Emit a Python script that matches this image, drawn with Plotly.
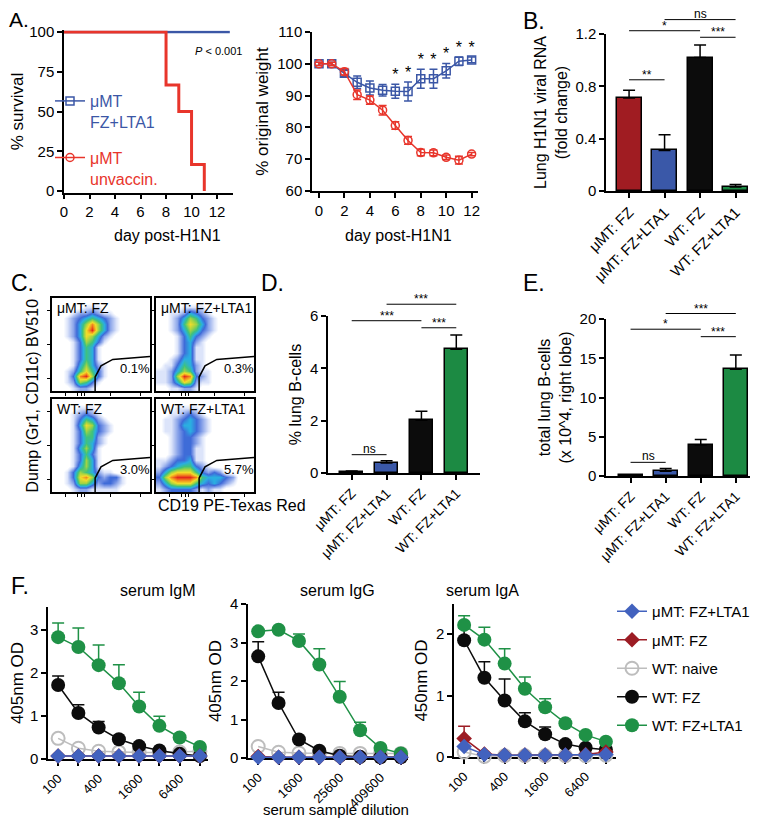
import plotly.graph_objects as go

W, H = 758, 823
FONT = "Liberation Sans, Arial, Helvetica, sans-serif"

# ---------------- colours ----------------
BLUE_A = "#3B57A6"
RED_A = "#E8352B"
GROUP_COLORS = ["#A01C22", "#3A58A8", "#0C0C0C", "#1C8A43"]
F_BLUE = "#4262BE"
F_RED = "#9C1C24"
F_GRAY = "#BDBDBD"
F_BLACK = "#0C0C0C"
F_GREEN = "#1F9146"

# ---------------- A. survival ----------------
surv_vacc_days = [0, 13]
surv_vacc = [100, 100]
surv_unvacc_days = [0, 8, 9, 10, 11]
surv_unvacc = [100, 66.7, 50, 16.7, 0]
p_value_text = "<i>P</i> < 0.001"

# ---------------- A. weight ----------------
weight_days = [0, 1, 2, 3, 4, 5, 6, 7, 8, 9, 10, 11, 12]
weight_vacc = [100, 100, 97.0, 94.2, 92.4, 91.7, 91.4, 91.3, 95.3, 95.3, 97.8, 100.8, 101.2]
weight_vacc_err = [0.5, 0.5, 1.0, 2.0, 2.2, 1.8, 2.2, 3.0, 3.0, 3.0, 2.3, 1.3, 0.9]
weight_unvacc = [100, 100, 97.5, 90.3, 88.6, 85.4, 80.6, 75.9, 72.1, 72.0, 70.6, 69.7, 71.6]
weight_unvacc_err = [0.5, 0.5, 1.0, 1.5, 1.3, 1.5, 1.2, 1.2, 1.0, 0.9, 0.7, 1.2, 0.5]
weight_sig_days = [6, 7, 8, 9, 10, 11, 12]

# ---------------- B / D / E bar charts ----------------
groups = ["μMT: FZ", "μMT: FZ+LTA1", "WT: FZ", "WT: FZ+LTA1"]
viral_rna = [0.71, 0.31, 1.02, 0.03]
viral_rna_err = [0.06, 0.12, 0.095, 0.02]
pct_bcells = [0.05, 0.38, 2.02, 4.73]
pct_bcells_err = [0.03, 0.09, 0.34, 0.54]
total_bcells = [0.08, 0.62, 3.94, 13.6]
total_bcells_err = [0.07, 0.33, 0.72, 1.8]
# (group a, group b, bar height, label)
sig_b = [(0, 1, 0.85, "**"), (0, 2, 1.225, "*"), (2, 3, 1.175, "***"), (1, 3, 1.31, "ns")]
sig_d = [(0, 1, 0.70, "ns"), (0, 2, 5.82, "***"), (2, 3, 5.55, "***"), (1, 3, 6.45, "***")]
sig_e = [(0, 1, 1.74, "ns"), (0, 2, 18.7, "*"), (2, 3, 17.75, "***"), (1, 3, 20.7, "***")]

# ---------------- C. flow density (levels 0-9, rows listed top -> bottom) ----------------
flow_titles = ["μMT: FZ", "μMT: FZ+LTA1", "WT: FZ", "WT: FZ+LTA1"]
flow_gate_pct = ["0.1%", "0.3%", "3.0%", "5.7%"]
flow_density_mu_fz = [
    "0000000000000000", "0000011100000000", "0001223211000000", "0012345432100000",
    "0012468642100000", "0012479642100000", "0012476421000000", "0001365310000000",
    "0001354100000000", "0001354100000000", "0001354100000000", "0001464210000000",
    "0012575310000000", "0013896310000000", "0012653100000000", "0001221000000000"]
flow_density_mu_lta1 = [
    "0000000000000000", "0000111100000000", "0011243210000000", "0012465321000000",
    "0012576421000000", "0012465321000000", "0001353210000000", "0001342100000000",
    "0001341100000000", "0001341100000000", "0012441100000000", "0113542100000000",
    "1124652110000000", "1126983210000000", "1124762110000000", "0011221000000000"]
flow_density_wt_fz = [
    "0000000000000000", "0000111000000000", "0001232100000000", "0001354210000000",
    "0001476321000000", "0001365321000000", "0001355210000000", "0001354210000000",
    "0001464100000000", "0001353100000000", "0001364100000000", "0001464100000000",
    "0013654211000000", "0013786323310000", "0012664233210000", "0001221111100000"]
flow_density_wt_lta1 = [
    "0000000000000000", "0001111000000000", "0011232100000000", "0112343210000000",
    "0112443210000000", "0112343210000000", "0012332100000000", "0012332100000000",
    "0012331100000000", "0012331100000000", "1123341100000000", "1234553210000000",
    "2467775323200000", "3689998544432000", "2467775434321000", "1233332121100000"]
flow_gate_x = [0.44, 0.44, 0.50, 0.62, 1.0]
flow_gate_y = [0.0, 0.15, 0.27, 0.34, 0.37]

# ---------------- F. serum ELISA ----------------
dil_igm = ["100", "200", "400", "800", "1600", "3200", "6400", "12800"]
igm_wt_lta1 = [2.83, 2.60, 2.18, 1.76, 1.22, 0.77, 0.50, 0.28]
igm_wt_lta1_err = [0.33, 0.44, 0.47, 0.43, 0.33, 0.22, 0, 0]
igm_wt_fz = [1.72, 1.07, 0.73, 0.46, 0.30, 0.20, 0.12, 0.07]
igm_wt_fz_err = [0.21, 0.19, 0.14, 0, 0, 0, 0, 0]
igm_naive = [0.48, 0.25, 0.18, 0.16, 0.15, 0.15, 0.16, 0.18]
igm_mu_fz = [0.07, 0.07, 0.07, 0.07, 0.07, 0.07, 0.07, 0.07]
igm_mu_fz_err = [0, 0, 0, 0, 0, 0, 0, 0]
igm_mu_lta1 = [0.07, 0.07, 0.07, 0.07, 0.07, 0.07, 0.07, 0.07]

dil_igg = ["100", "400", "1600", "6400", "25600", "102400", "409600", "1638400"]
igg_wt_lta1 = [3.29, 3.33, 3.04, 2.43, 1.59, 0.72, 0.26, 0.12]
igg_wt_lta1_err = [0, 0, 0.18, 0.41, 0.40, 0.21, 0, 0]
igg_wt_fz = [2.64, 1.43, 0.48, 0.19, 0.06, 0.03, 0.02, 0.02]
igg_wt_fz_err = [0.38, 0.28, 0, 0, 0, 0, 0, 0]
igg_naive = [0.30, 0.15, 0.13, 0.12, 0.12, 0.12, 0.12, 0.12]
igg_mu_fz = [0.04, 0.02, 0.02, 0.02, 0.02, 0.02, 0.02, 0.02]
igg_mu_fz_err = [0, 0, 0, 0, 0, 0, 0, 0]
igg_mu_lta1 = [0.02, 0.02, 0.02, 0.02, 0.02, 0.02, 0.02, 0.02]

dil_iga = ["100", "200", "400", "800", "1600", "3200", "6400", "12800"]
iga_wt_lta1 = [2.15, 1.91, 1.52, 1.11, 0.81, 0.55, 0.36, 0.25]
iga_wt_lta1_err = [0.15, 0.20, 0.24, 0.19, 0.14, 0, 0, 0]
iga_wt_fz = [1.90, 1.29, 0.92, 0.58, 0.37, 0.21, 0.15, 0.12]
iga_wt_fz_err = [0.20, 0.26, 0.35, 0.14, 0.12, 0, 0, 0]
iga_naive = [0.08, 0.01, 0.02, 0.02, 0.02, 0.02, 0.02, 0.03]
iga_mu_fz = [0.30, 0.05, 0.03, 0.03, 0.03, 0.03, 0.04, 0.08]
iga_mu_fz_err = [0.20, 0, 0, 0, 0, 0, 0, 0]
iga_mu_lta1 = [0.17, 0.04, 0.03, 0.03, 0.03, 0.03, 0.03, 0.04]

elisa_names = ["μMT: FZ+LTA1", "μMT: FZ", "WT: naive", "WT: FZ", "WT: FZ+LTA1"]

# ======================================================================
fig = go.Figure()
TICK = 15
TITLE = 16


def xdom(a, b):
    return [a / W, b / W]


def ydom(top, bottom):
    return [1 - bottom / H, 1 - top / H]


def ax(**kw):
    d = dict(showgrid=False, zeroline=False, showline=True, linecolor="black", linewidth=1.5,
             ticks="outside", ticklen=5, tickwidth=1.5, tickcolor="black", automargin=False,
             tickfont=dict(family=FONT, size=TICK, color="black"))
    d.update(kw)
    return d


def ttl(text, standoff, size=TITLE):
    return dict(text=text, standoff=standoff, font=dict(family=FONT, size=size, color="black"))


def paper_text(text, px, py, size=TITLE, **kw):
    fig.add_annotation(xref="paper", yref="paper", x=px / W, y=1 - py / H, text=text,
                       showarrow=False, font=dict(family=FONT, size=size, color="black"), **kw)


layout_axes = {}

# ---- A survival (x, y)
fig.add_trace(go.Scatter(x=surv_vacc_days, y=surv_vacc, mode="lines",
                         line=dict(color=BLUE_A, width=2.5, shape="hv"),
                         xaxis="x", yaxis="y", showlegend=False, hoverinfo="skip"))
fig.add_trace(go.Scatter(x=surv_unvacc_days, y=surv_unvacc, mode="lines",
                         line=dict(color=RED_A, width=3, shape="hv"),
                         xaxis="x", yaxis="y", showlegend=False, hoverinfo="skip"))
layout_axes["xaxis"] = ax(domain=xdom(56, 225), range=[0, 13.25], tickvals=[0, 2, 4, 6, 8, 10, 12],
                          anchor="y")
layout_axes["yaxis"] = ax(domain=ydom(22.4, 184.6), range=[-1, 101], tickvals=[0, 25, 50, 75, 100],
                          anchor="x", title=ttl("% survival", 4, 17))
paper_text("day post-H1N1", 104, 217)
fig.add_annotation(xref="x", yref="y", x=12.1, y=88, text=p_value_text, showarrow=False,
                   font=dict(family=FONT, size=11, color="black"))

# ---- A weight (x2, y2)
fig.add_trace(go.Scatter(
    x=weight_days, y=weight_vacc, mode="lines+markers",
    name=f"<span style='color:{BLUE_A}'>μMT</span><br><span style='color:{BLUE_A}'>FZ+LTA1</span>",
    line=dict(color=BLUE_A, width=1.5),
    marker=dict(symbol="square-open", size=8, color=BLUE_A, line=dict(width=1.5)),
    error_y=dict(type="data", array=weight_vacc_err, color=BLUE_A, thickness=1.5, width=4),
    xaxis="x2", yaxis="y2", legend="legend", legendgroup="a1", legendrank=1, cliponaxis=False))
fig.add_trace(go.Scatter(
    x=weight_days, y=weight_unvacc, mode="lines+markers",
    name=f"<span style='color:{RED_A}'>μMT</span><br><span style='color:{RED_A}'>unvaccin.</span>",
    line=dict(color=RED_A, width=1.5),
    marker=dict(symbol="circle-open", size=8, color=RED_A, line=dict(width=1.5)),
    error_y=dict(type="data", array=weight_unvacc_err, color=RED_A, thickness=1.5, width=4),
    xaxis="x2", yaxis="y2", legend="legend", legendgroup="a2", legendrank=2, cliponaxis=False))
fig.add_trace(go.Scatter(
    x=weight_sig_days, y=[weight_vacc[d] + weight_vacc_err[d] for d in weight_sig_days],
    mode="text", text=["*"] * len(weight_sig_days), textposition="top center",
    textfont=dict(family=FONT, size=16, color="black"),
    xaxis="x2", yaxis="y2", showlegend=False, cliponaxis=False, hoverinfo="skip"))
layout_axes["xaxis2"] = ax(domain=xdom(304, 470), range=[-0.55, 12.5], tickvals=[0, 2, 4, 6, 8, 10, 12],
                           anchor="y2")
layout_axes["yaxis2"] = ax(domain=ydom(24, 183), range=[60, 110], tickvals=[60, 70, 80, 90, 100, 110],
                           anchor="x2", title=ttl("% original weight", 4, 17))
paper_text("day post-H1N1", 390, 217)


# ---- bar panels
def add_bars(n, vals, errs, yr, yticks, yticktext, xdomain, ydomain, xr, title, standoff, sig, width, xfont):
    fig.add_trace(go.Bar(
        x=[0, 1, 2, 3], y=vals, width=width,
        marker=dict(color=GROUP_COLORS, line=dict(color="black", width=1.5)),
        error_y=dict(type="data", array=errs, arrayminus=[0] * 4, symmetric=False,
                     color="black", thickness=1.5, width=6),
        xaxis=f"x{n}", yaxis=f"y{n}", showlegend=False, hoverinfo="skip"))
    layout_axes[f"xaxis{n}"] = ax(domain=xdomain, range=xr, tickvals=[0, 1, 2, 3], ticktext=groups,
                                  tickangle=-45, anchor=f"y{n}",
                                  tickfont=dict(family=FONT, size=xfont, color="black"))
    layout_axes[f"yaxis{n}"] = ax(domain=ydomain, range=yr, tickvals=yticks, ticktext=yticktext,
                                  anchor=f"x{n}", title=ttl(title, standoff))
    y0, y1 = yr
    for a, b, yv, txt in sig:
        yf = (yv - y0) / (y1 - y0)
        fig.add_shape(type="line", xref=f"x{n}", yref=f"y{n} domain", x0=a, x1=b, y0=yf, y1=yf,
                      line=dict(color="black", width=1))
        fig.add_annotation(xref=f"x{n}", yref=f"y{n} domain", x=(a + b) / 2, y=yf, text=txt,
                           showarrow=False, yanchor="bottom", yshift=-4 if "*" in txt else -3,
                           font=dict(family=FONT, size=12, color="black"))


add_bars(3, viral_rna, viral_rna_err, [0, 1.2], [0, 0.4, 0.8, 1.2], ["0", "0.4", "0.8", "1.2"],
         xdom(598, 740), ydom(26, 183), [-0.65, 3.35],
         "Lung H1N1 viral RNA<br>(fold change)", 4, sig_b, 0.7, 15)
add_bars(8, pct_bcells, pct_bcells_err, [0, 6], [0, 2, 4, 6], ["0", "2", "4", "6"],
         xdom(320, 472), ydom(308, 465), [-0.68, 3.68],
         "% lung B-cells", 4, sig_d, 0.66, 14)
add_bars(9, total_bcells, total_bcells_err, [0, 20], [0, 5, 10, 15, 20], ["0", "5", "10", "15", "20"],
         xdom(598, 751), ydom(311, 468), [-0.7, 3.66],
         "total lung B-cells<br>(x 10^4, right lobe)", 4, sig_e, 0.68, 14)

# ---- C flow panels (x4..x7)
flow_colorscale = [
    [0.0, "#ffffff"], [0.04, "#ffffff"], [0.11, "#dde5fa"], [0.22, "#8ea7ea"],
    [0.33, "#3f6ad8"], [0.44, "#2aaee2"], [0.56, "#3fc27c"], [0.67, "#a3d443"],
    [0.78, "#f2dc2a"], [0.89, "#f2891e"], [1.0, "#e3261c"]]
flow_densities = [flow_density_mu_fz, flow_density_mu_lta1, flow_density_wt_fz, flow_density_wt_lta1]
flow_boxes = [((44, 142), (290, 383)), ((148, 246), (290, 383)),
              ((44, 142), (391, 484)), ((148, 246), (391, 484))]
ncell = 16
cell_centers = [(i + 0.5) / ncell for i in range(ncell)]
for k in range(4):
    n = 4 + k
    rows = flow_densities[k]
    z = [[int(ch) for ch in row] for row in rows[::-1]]
    fig.add_trace(go.Heatmap(z=z, x=cell_centers, y=cell_centers, zmin=0, zmax=9,
                             colorscale=flow_colorscale, zsmooth="best", showscale=False,
                             xaxis=f"x{n}", yaxis=f"y{n}", hoverinfo="skip"))
    fig.add_trace(go.Scatter(x=flow_gate_x, y=flow_gate_y, mode="lines",
                             line=dict(color="black", width=1.5), xaxis=f"x{n}", yaxis=f"y{n}",
                             showlegend=False, hoverinfo="skip"))
    (xa, xb), (yt, yb) = flow_boxes[k]
    layout_axes[f"xaxis{n}"] = ax(domain=xdom(xa, xb), range=[0, 1], anchor=f"y{n}", mirror=True,
                                  showticklabels=False, ticklen=3, tickwidth=1,
                                  tickvals=[0.14, 0.26, 0.3, 0.33, 0.6, 0.9])
    layout_axes[f"yaxis{n}"] = ax(domain=ydom(yt, yb), range=[0, 1], anchor=f"x{n}", mirror=True,
                                  showticklabels=False, ticklen=3, tickwidth=1,
                                  tickvals=[0.13, 0.5, 0.87])
    fig.add_annotation(xref=f"x{n}", yref=f"y{n}", x=0.03, y=0.89, text=flow_titles[k],
                       showarrow=False, xanchor="left", yanchor="middle",
                       font=dict(family=FONT, size=14, color="black"))
    fig.add_annotation(xref=f"x{n}", yref=f"y{n}", x=0.85, y=0.24, text=flow_gate_pct[k],
                       showarrow=False, font=dict(family=FONT, size=13, color="black"))

paper_text("Dump (Gr1, CD11c) BV510", 13, 388, textangle=-90)
paper_text("CD19 PE-Texas Red", 148, 497)

# ---- F ELISA panels (x10, x11, x12)
elisa_panels = [
    (10, dil_igm, [igm_mu_lta1, igm_mu_fz, igm_naive, igm_wt_fz, igm_wt_lta1],
     [None, igm_mu_fz_err, None, igm_wt_fz_err, igm_wt_lta1_err],
     xdom(40, 200), [-0.5, 7.4], ydom(599, 751), [0, 3.53], [0, 1, 2, 3], "405nm OD", "serum IgM", 110),
    (11, dil_igg, [igg_mu_lta1, igg_mu_fz, igg_naive, igg_wt_fz, igg_wt_lta1],
     [None, igg_mu_fz_err, None, igg_wt_fz_err, igg_wt_lta1_err],
     xdom(240, 400), [-0.5, 7.35], ydom(596, 750), [0, 4], [0, 1, 2, 3, 4], "405nm OD", "serum IgG", 329),
    (12, dil_iga, [iga_mu_lta1, iga_mu_fz, iga_naive, iga_wt_fz, iga_wt_lta1],
     [None, iga_mu_fz_err, None, iga_wt_fz_err, iga_wt_lta1_err],
     xdom(446, 608), [-0.5, 7.5], ydom(596, 749), [0, 2.49], [0, 1, 2], "450nm OD", "serum IgA", 513),
]
series_style = [
    dict(color=F_BLUE, symbol="diamond", size=12, rank=1),
    dict(color=F_RED, symbol="diamond", size=12, rank=2),
    dict(color=F_GRAY, symbol="circle-open", size=13, rank=3),
    dict(color=F_BLACK, symbol="circle", size=14, rank=4),
    dict(color=F_GREEN, symbol="circle", size=14, rank=5),
]
draw_order = [2, 3, 4, 1, 0]
for (n, dils, series, errs, xd, xr, yd, yr, yt, ytitle, ptitle, tx) in elisa_panels:
    idx = list(range(len(dils)))
    for s in draw_order:
        st = series_style[s]
        err = errs[s]
        kw = {}
        if err is not None:
            kw["error_y"] = dict(type="data", array=err, arrayminus=[0] * len(err), symmetric=False,
                                 color=st["color"], thickness=1.5, width=6)
        mline = dict(width=2, color=st["color"]) if "open" in st["symbol"] else dict(width=0)
        fig.add_trace(go.Scatter(
            x=idx, y=series[s], mode="lines+markers", name=elisa_names[s],
            line=dict(color=st["color"], width=1.5),
            marker=dict(symbol=st["symbol"], size=st["size"], color=st["color"], line=mline),
            xaxis=f"x{n}", yaxis=f"y{n}", legend="legend2", legendrank=st["rank"],
            legendgroup=f"f{s}", showlegend=(n == 10), cliponaxis=False, hoverinfo="skip", **kw))
    ticktext = [d if i % 2 == 0 else "" for i, d in enumerate(dils)]
    layout_axes[f"xaxis{n}"] = ax(domain=xd, range=xr, tickvals=idx, ticktext=ticktext, tickangle=-45,
                                  anchor=f"y{n}", layer="below traces",
                                  tickfont=dict(family=FONT, size=13, color="black"))
    layout_axes[f"yaxis{n}"] = ax(domain=yd, range=yr, tickvals=yt, anchor=f"x{n}",
                                  layer="below traces", title=ttl(ytitle, 4, 17))
    paper_text(ptitle, tx, 593)

paper_text("serum sample dilution", 328, 812, size=15)

# ---- panel letters
for letter, px, py in [("A.", 0, 11), ("B.", 514, 13), ("C.", 2, 275), ("D.", 252, 275),
                       ("E.", 514, 275), ("F.", 2, 578)]:
    paper_text(letter, px, py, size=21 if letter == "A." else 23, xanchor="left", yanchor="middle",
               borderpad=0)

fig.update_layout(
    width=W, height=H, margin=dict(l=0, r=0, t=0, b=0),
    paper_bgcolor="white", plot_bgcolor="white",
    font=dict(family=FONT, size=14, color="black"),
    bargap=0,
    legend=dict(x=42 / W, y=1 - 76 / H, xanchor="left", yanchor="top", bgcolor="rgba(0,0,0,0)",
                font=dict(family=FONT, size=16), valign="top", traceorder="grouped",
                tracegroupgap=12, itemwidth=30),
    legend2=dict(x=604 / W, y=1 - 587 / H, xanchor="left", yanchor="top", bgcolor="rgba(0,0,0,0)",
                 font=dict(family=FONT, size=15, color="black"), traceorder="grouped",
                 tracegroupgap=6, itemwidth=30),
    **layout_axes,
)

fig.write_html("out.html")
